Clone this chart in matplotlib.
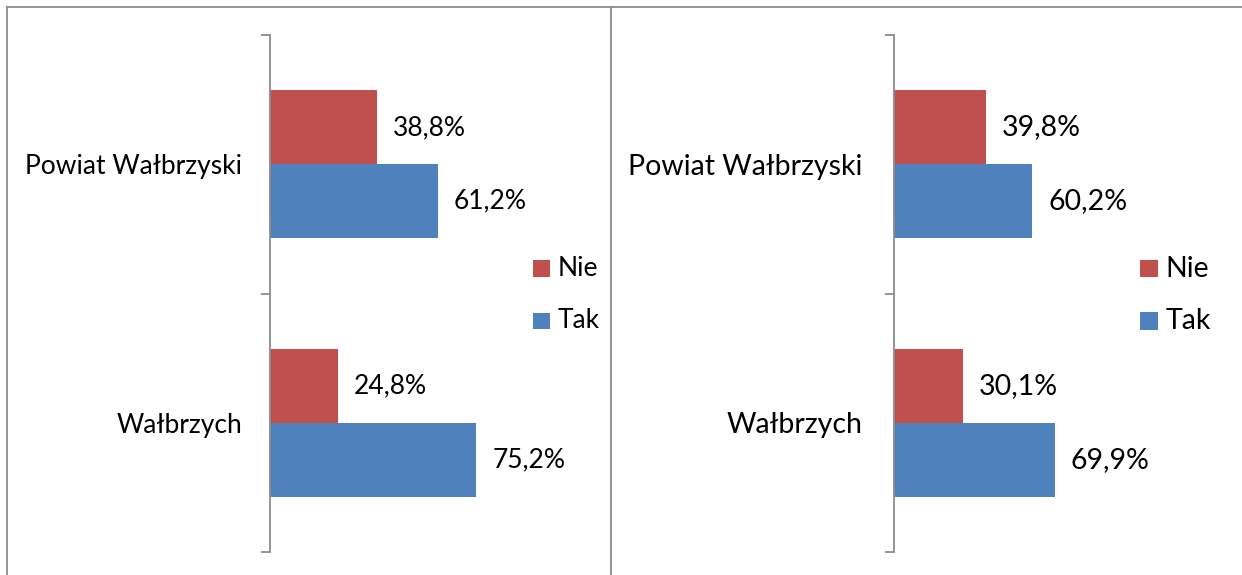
import matplotlib
matplotlib.use("Agg")
import matplotlib.pyplot as plt
from matplotlib.patches import Rectangle
from matplotlib.lines import Line2D

# Survey answers (percent), two panels
categories = ["Wałbrzych", "Powiat Wałbrzyski"]
series_names = ["Nie", "Tak"]
left_nie = [24.8, 38.8]
left_tak = [75.2, 61.2]
right_nie = [30.1, 39.8]
right_tak = [69.9, 60.2]

colors = {"Nie": "#C0504D", "Tak": "#4F81BD"}
grey = "#8C8C8C"

W, H = 1242, 575
plt.rcParams['font.family'] = ['Lato', 'DejaVu Sans']

fig = plt.figure(figsize=(W / 100, H / 100), dpi=100)


def fx(x):
    return x / W


def fy(y):
    return 1 - y / H


# outer frame and divider
for xs, ys in [((6.5, W), (6.5, 6.5)), ((6.5, 6.5), (6.5, H)), ((611, 611), (6.5, H))]:
    fig.add_artist(Line2D([fx(v) for v in xs], [fy(v) for v in ys],
                          transform=fig.transFigure, color=grey, lw=1.3))


def fmt(v):
    return f"{v:.1f}%".replace(".", ",")


def panel(x0, px_per_pct, nie, tak, legend_x, fs, label_pad, sq):
    xmax = 80
    ax = fig.add_axes([fx(x0), fy(552), fx(px_per_pct * xmax), (552 - 35) / H])
    bh = 1 / 3.5
    ypos = list(range(len(categories)))
    b_nie = ax.barh([y + bh / 2 for y in ypos], nie, height=bh, color=colors["Nie"])
    b_tak = ax.barh([y - bh / 2 for y in ypos], tak, height=bh, color=colors["Tak"])
    for bars, vals in [(b_nie, nie), (b_tak, tak)]:
        ax.bar_label(bars, labels=[fmt(v) for v in vals], padding=11.5, fontsize=fs)
    ax.set_xlim(0, xmax)
    ax.set_ylim(-0.5, len(categories) - 0.5)
    ax.set_yticks(ypos, categories, fontsize=fs)
    ax.tick_params(axis="y", which="major", length=0, pad=label_pad)
    ax.set_yticks([-0.5, 0.5, 1.5], minor=True)
    ax.tick_params(axis="y", which="minor", length=6.5, width=1.3, color=grey, direction="out")
    ax.set_xticks([])
    for s in ["top", "right", "bottom"]:
        ax.spines[s].set_visible(False)
    ax.spines["left"].set_color(grey)
    ax.spines["left"].set_linewidth(1.3)
    ax.patch.set_alpha(0)

    # legend
    for name, yc in [("Nie", 268.5), ("Tak", 321)]:
        fig.add_artist(Rectangle((fx(legend_x), fy(yc + sq / 2)), fx(sq), sq / H,
                                 transform=fig.transFigure, color=colors[name], lw=0))
        fig.text(fx(legend_x + sq + 8), fy(yc), name, fontsize=fs, va="center", ha="left")


panel(270, 2.745, left_nie, left_tak, 533, 19, 20, 16.5)
panel(894, 2.30, right_nie, right_tak, 1140, 20.5, 22.5, 17.5)

fig.savefig("out.png", dpi=100, facecolor="white")
